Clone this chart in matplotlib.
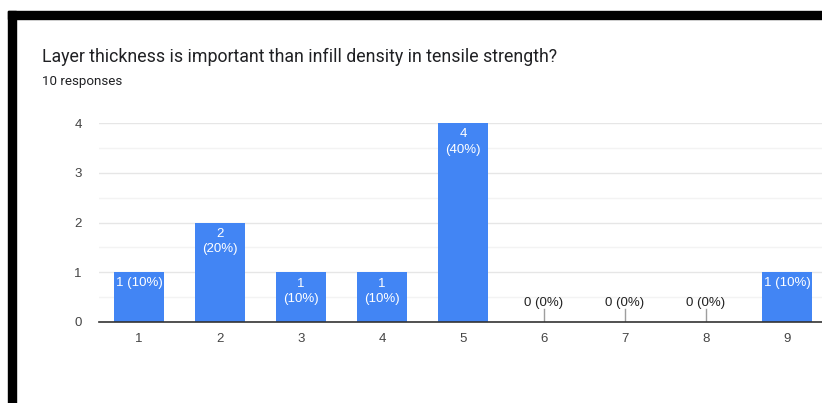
import matplotlib
matplotlib.use("Agg")
import matplotlib.pyplot as plt
from matplotlib.patches import Rectangle

# Survey responses per rating option
options = [1, 2, 3, 4, 5, 6, 7, 8, 9]
counts = [1, 2, 1, 1, 4, 0, 0, 0, 1]
total_responses = 10
title = "Layer thickness is important than infill density in tensile strength?"
subtitle = f"{total_responses} responses"
y_ticks = [0, 1, 2, 3, 4]

# options whose label is split over two lines inside the bar
wrapped = {2, 3, 4, 5}

W, H = 822, 403
fig = plt.figure(figsize=(W / 100, H / 100), dpi=100)
fig.patch.set_facecolor("white")

# black frame strips along the top and left edges
fig.patches.append(Rectangle((8 / W, (H - 19) / H), 1 - 8 / W, 8 / H,
                             transform=fig.transFigure, color="black", zorder=0))
fig.patches.append(Rectangle((8 / W, 0), 8 / W, (H - 11) / H,
                             transform=fig.transFigure, color="black", zorder=0))

fig.text(42 / W, 1 - 57 / H, title, fontsize=12.8, family="Roboto",
         color="#202124", va="center", ha="left")
fig.text(42 / W, 1 - 81 / H, subtitle, fontsize=9.6, family="Roboto",
         color="#202124", va="center", ha="left")

px_per_unit = 81
ax_left = 98.5
ax_bottom = H - 322
ax_h = 199
ax = fig.add_axes([ax_left / W, ax_bottom / H, 9 * px_per_unit / W, ax_h / H])
ax.set_xlim(0.5, 9.5)
ax.set_ylim(0, 4)

blue = "#4285F4"
ax.bar(options, counts, width=0.61, color=blue, zorder=3)

font = "Liberation Sans"
for x, c in zip(options, counts):
    pct = round(100 * c / total_responses)
    if c == 0:
        ax.plot([x, x], [0, 0.27], color="#9e9e9e", lw=1, zorder=3)
        ax.text(x, 0.38, f"{c} ({pct}%)", ha="center", va="center",
                fontsize=9.5, family=font, color="#222222", zorder=4)
    elif x in wrapped:
        ax.text(x, c - 0.11, f"{c}\n({pct}%)", ha="center", va="top",
                fontsize=9.5, family=font, color="white", zorder=4,
                linespacing=1.35)
    else:
        ax.text(x, c - 0.1, f"{c} ({pct}%)", ha="center", va="top",
                fontsize=9.5, family=font, color="white", zorder=4)

ax.set_yticks(y_ticks)
ax.set_yticks([0.5, 1.5, 2.5, 3.5], minor=True)
ax.set_xticks(options)
ax.set_xticklabels([str(o) for o in options])
ax.tick_params(axis="both", which="both", length=0, labelsize=9.5,
               labelcolor="#444444")
ax.tick_params(axis="y", pad=12)
ax.tick_params(axis="x", pad=8)
for lbl in ax.get_xticklabels() + ax.get_yticklabels():
    lbl.set_family(font)

ax.grid(axis="y", which="major", color="#e6e6e6", lw=1, zorder=0)
ax.grid(axis="y", which="minor", color="#f3f3f3", lw=1, zorder=0)
ax.grid(axis="x", visible=False)
for side in ("top", "right", "left"):
    ax.spines[side].set_visible(False)
ax.spines["bottom"].set_color("#333333")
ax.spines["bottom"].set_linewidth(1.2)
ax.spines["bottom"].set_zorder(5)

fig.savefig("out.png", dpi=100, facecolor="white")
